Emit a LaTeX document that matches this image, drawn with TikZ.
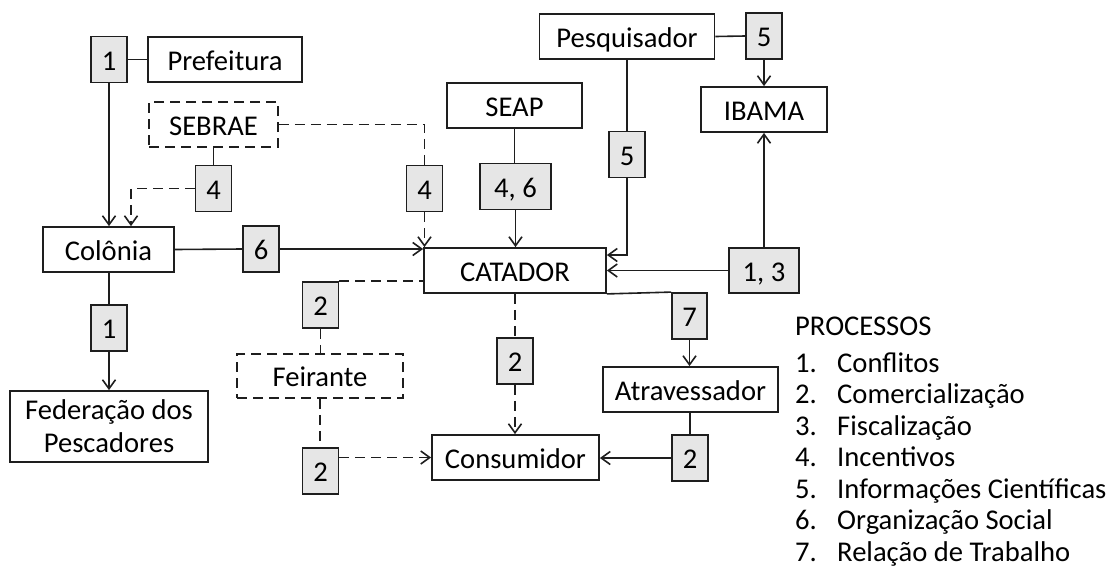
\documentclass[tikz,border=0pt]{standalone}
\usepackage{fontspec}
\setmainfont{Carlito}
\usepackage{tikz}
\usetikzlibrary{shapes,arrows.meta,positioning}

\definecolor{procfill}{RGB}{230,230,230}
\definecolor{inkline}{RGB}{30,30,30}

\tikzset{
  box/.style={draw=inkline, line width=1.8pt, fill=white, inner sep=0pt,
    minimum height=45pt},
  actor/.style={box, text height=21pt, text depth=0pt},
  maybe/.style={actor, dash pattern=on 10pt off 6pt},
  proc/.style={actor, fill=procfill, minimum width=36pt, minimum height=46pt},
  link/.style={draw=inkline, line width=1.6pt},
  dlink/.style={link, dash pattern=on 10pt off 6pt},
  >={Straight Barb[length=9pt,width=13pt,line width=1.6pt]}
}

\begin{document}
\begin{tikzpicture}[x=1pt, y=-1pt, font=\fontsize{28.6}{32}\selectfont]
\useasboundingbox[fill=white] (0,0) rectangle (1108,579);

% Actors
\node[actor, minimum width=154pt] (pref) at (225,59.5) {Prefeitura};
\node[maybe, minimum width=129pt] (sebrae) at (213.5,124.5) {SEBRAE};
\node[actor, minimum width=131pt] (colonia) at (108.5,249.5) {Colônia};
\node[box, align=center, minimum width=198pt, minimum height=71pt] (fed) at (109,426.5) {Federação dos\\[1pt]Pescadores};
\node[actor, minimum width=135pt] (seap) at (514.5,105.5) {SEAP};
\node[actor, minimum width=175pt] (pesq) at (627,36.5) {Pesquisador};
\node[actor, minimum width=126pt] (ibama) at (764,109.5) {IBAMA};
\node[actor, minimum width=182pt] (catador) at (515,270.5) {CATADOR};
\node[maybe, minimum width=166pt, minimum height=44pt] (feirante) at (320,376) {Feirante};
\node[actor, minimum width=167pt] (consumidor) at (515.5,457.5) {Consumidor};
\node[actor, minimum width=175pt] (atrav) at (690.5,389.5) {Atravessador};

% Process boxes
\node[proc] (p1a) at (109,59.5) {1};
\node[proc] (p4a) at (213.5,188.5) {4};
\node[proc] (p6) at (261,249) {6};
\node[proc] (p1b) at (109,328) {1};
\node[proc, minimum width=71pt] (p46) at (515.5,186.5) {4, 6};
\node[proc] (p4b) at (424.5,188.5) {4};
\node[proc] (p5a) at (764,36) {5};
\node[proc] (p5b) at (627,154.5) {5};
\node[proc, minimum width=70pt, minimum height=45pt] (p13) at (764,270.5) {1, 3};
\node[proc] (p2a) at (320.5,305) {2};
\node[proc] (p2b) at (320.5,471) {2};
\node[proc] (p2c) at (515,361) {2};
\node[proc, minimum width=35pt] (p7) at (689.5,316) {7};
\node[proc] (p2d) at (690,458) {2};

% Solid links
\draw[link] (p1a.east) -- (pref.west);
\draw[link, ->] (p1a.south) -- (p1a.south |- colonia.north);
\draw[link] (sebrae.south) -- (sebrae.south |- p4a.north);
\draw[link] (colonia.east) -- (p6.west);
\draw[link, ->] (p6.east) -- (p6.east -| catador.west);
\draw[link] (p1b.north |- colonia.south) -- (p1b.north);
\draw[link, ->] (p1b.south) -- (fed.north);
\draw[link] (seap.south) -- (seap.south |- p46.north);
\draw[link, ->] (p46.south) -- (p46.south |- catador.north);
\draw[link] (pesq.east) -- (p5a.west);
\draw[link, ->] (p5a.south) -- (ibama.north);
\draw[link] (pesq.south) -- (p5b.north);
\draw[link, ->] (p5b.south) |- ([yshift=15.5pt]catador.east);
\draw[link, ->] (p13.west) -- (p13.west -| catador.east);
\draw[link, ->] (p13.north) -- (ibama.south);
\draw[link] (catador.south east) -- (p7.north west);
\draw[link, ->] (p7.south) -- (p7.south |- atrav.north);
\draw[link] (atrav.south -| p2d.north) -- (p2d.north);
\draw[link, ->] (p2d.west) -- (p2d.west -| consumidor.east);

% Dashed links
\draw[dlink, ->] (p4a.west) -| ([xshift=22.5pt]colonia.north);
\draw[dlink] (sebrae.east) -| (p4b.north);
\draw[dlink, ->] (p4b.south) -- (p4b.south |- catador.north);
\draw[dlink] (p2a.north east) -- (p2a.north east -| catador.west);
\draw[dlink] (p2a.south) -- (p2a.south |- feirante.north);
\draw[dlink] (feirante.south) -- (feirante.south |- p2b.north);
\draw[dlink, ->] (p2b.east |- consumidor.west) -- (consumidor.west);
\draw[dlink] (catador.south) -- (catador.south |- p2c.north);
\draw[dlink, ->] (p2c.south) -- (p2c.south |- consumidor.north);

% Legend
\node[anchor=base west, inner sep=0pt] (leg) at (795,335) {PROCESSOS};
\foreach \t [count=\i] in {Conflitos, Comercialização, Fiscalização, Incentivos,
    Informações Científicas, Organização Social, Relação de Trabalho} {
  \node[anchor=base west, inner sep=0pt] (num\i) at (795,{372+31.5*(\i-1)}) {\i.};
  \node[anchor=base west, inner sep=0pt] (item\i) at (837,{372+31.5*(\i-1)}) {\t};
}
\end{tikzpicture}
\end{document}
